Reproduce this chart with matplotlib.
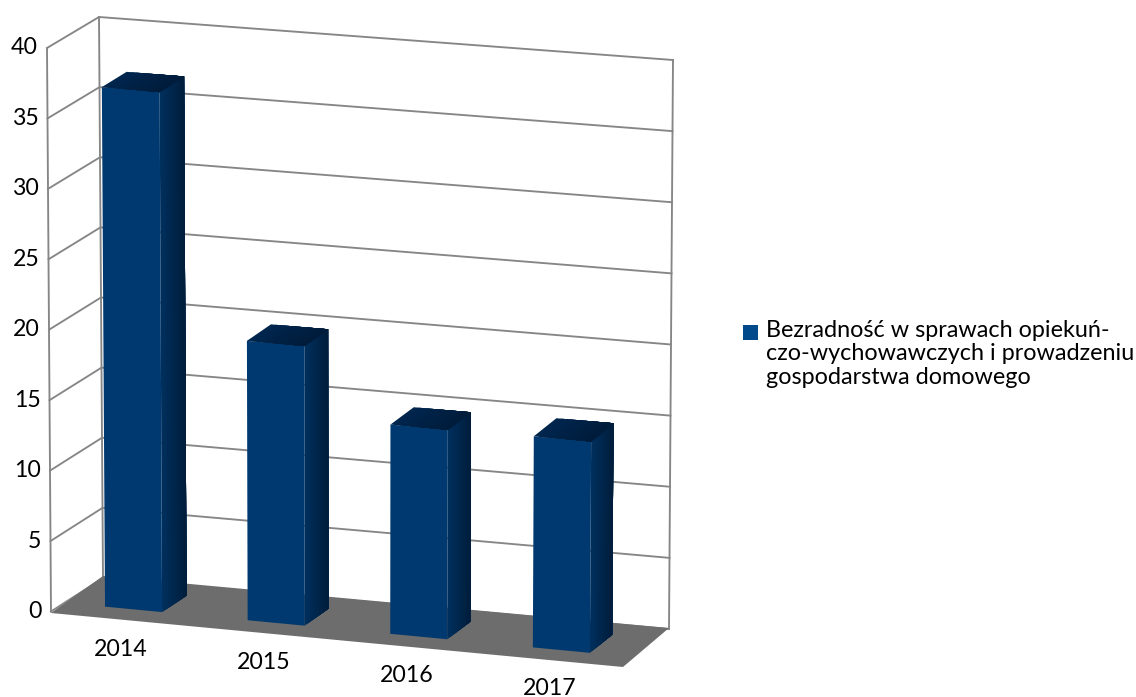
import numpy as np
import matplotlib
matplotlib.use("Agg")
import matplotlib.pyplot as plt
from matplotlib.colors import to_rgb
from matplotlib.patches import Rectangle

# ---- data ----
categories = ["2014", "2015", "2016", "2017"]
values = [36.9, 19.8, 14.8, 14.9]
y_ticks = [0, 5, 10, 15, 20, 25, 30, 35, 40]
legend_text = ("Bezradność w sprawach opiekuń-\n"
               "czo-wychowawczych i prowadzeniu\n"
               "gospodarstwa domowego")

# ---- style / layout ----
W, H = 1136, 697
plt.rcParams['font.family'] = ['Lato', 'DejaVu Sans']
GRID = "#868686"
FLOOR = "#6d6d6d"
FRONT = "#00396f"
SIDE_A, SIDE_B = "#00305f", "#001d3a"
TOP_A, TOP_B = "#00264f", "#001c3a"
LEGEND_SWATCH = "#004a8c"
VMAX = 40.0
BAR_W = 0.10
BAR_SHIFT = -0.004
BAR_D0, BAR_D1 = 0.26, 0.74

# corners of the 3D box on the page: (right?, back?, top?)
C = {
    (0, 0, 0): (51, 611.5), (1, 0, 0): (623, 667),
    (0, 1, 0): (103, 578), (1, 1, 0): (669, 629),
    (0, 0, 1): (47, 48), (1, 0, 1): (627, 100),
    (0, 1, 1): (99, 17), (1, 1, 1): (673, 60),
}
# the floor plate sits slightly proud of the wall base
FLOOR_PTS = [(51, 613), (623, 667), (669, 628), (103, 576)]


def proj(u, d, v):
    """Trilinear scale: u across categories, d depth, v data value."""
    t = v / VMAX
    p = np.zeros(2)
    for (a, b, c), xy in C.items():
        p += (u if a else 1 - u) * (d if b else 1 - d) * (t if c else 1 - t) * np.array(xy, float)
    return p


def poly(ax, pts, color, z):
    pts = np.array(pts)
    ax.fill(pts[:, 0], pts[:, 1], facecolor=color, edgecolor="none", zorder=z)


def gradient_quad(ax, a, b, c, d, col0, col1, z, n=12):
    """quad a-b (start edge) to d-c (end edge), painted over itself in n steps"""
    a, b, c, d = map(np.array, (a, b, c, d))
    c0, c1 = np.array(to_rgb(col0)), np.array(to_rgb(col1))
    for i in range(n):
        s0 = i / n
        col = c0 + (c1 - c0) * (i + 0.5) / n
        poly(ax, [a + (d - a) * s0, b + (c - b) * s0, c, d], col, z)


fig = plt.figure(figsize=(W / 100, H / 100), dpi=100)
ax = fig.add_axes([0, 0, 1, 1])
ax.set_xlim(0, W)
ax.set_ylim(H, 0)
ax.axis("off")

# walls and gridlines
for tick in y_ticks:
    pts = np.array([proj(0, 0, tick), proj(0, 1, tick), proj(1, 1, tick)])
    ax.plot(pts[:, 0], pts[:, 1], color=GRID, lw=1.35, zorder=1, solid_joinstyle="miter")
    fx, fy = proj(0, 0, tick)
    ax.text(fx - 9, fy, str(tick), ha="right", va="center", fontsize=16.7, color="#000000")
for u, d in [(0, 0), (0, 1), (1, 1)]:
    pts = np.array([proj(u, d, 0), proj(u, d, VMAX)])
    ax.plot(pts[:, 0], pts[:, 1], color=GRID, lw=1.35, zorder=1)

# floor
poly(ax, FLOOR_PTS, FLOOR, 2)

# bars
n = len(categories)
for i, (cat, val) in enumerate(zip(categories, values)):
    uc = (i + 0.5) / n
    u0, u1 = uc + BAR_SHIFT - BAR_W / 2, uc + BAR_SHIFT + BAR_W / 2
    z = 3 + i
    # front
    poly(ax, [proj(u0, BAR_D0, 0), proj(u1, BAR_D0, 0), proj(u1, BAR_D0, val), proj(u0, BAR_D0, val)], FRONT, z)
    # side
    gradient_quad(ax, proj(u1, BAR_D0, 0), proj(u1, BAR_D0, val), proj(u1, BAR_D1, val), proj(u1, BAR_D1, 0),
                  SIDE_A, SIDE_B, z)
    # top
    gradient_quad(ax, proj(u0, BAR_D0, val), proj(u0, BAR_D1, val), proj(u1, BAR_D1, val), proj(u1, BAR_D0, val),
                  TOP_A, TOP_B, z)
    lx, ly = proj(uc, 0, 0)
    ax.text(lx - 2, ly + 38 - i, cat, ha="center", va="baseline", fontsize=16.7, color="#000000")

# legend
ax.add_patch(Rectangle((743, 325), 15, 15, facecolor=LEGEND_SWATCH, edgecolor="none"))
ax.text(766, 354, legend_text, ha="left", va="center", fontsize=16.85, color="#000000", linespacing=1.14)

fig.savefig("out.png", dpi=100)
